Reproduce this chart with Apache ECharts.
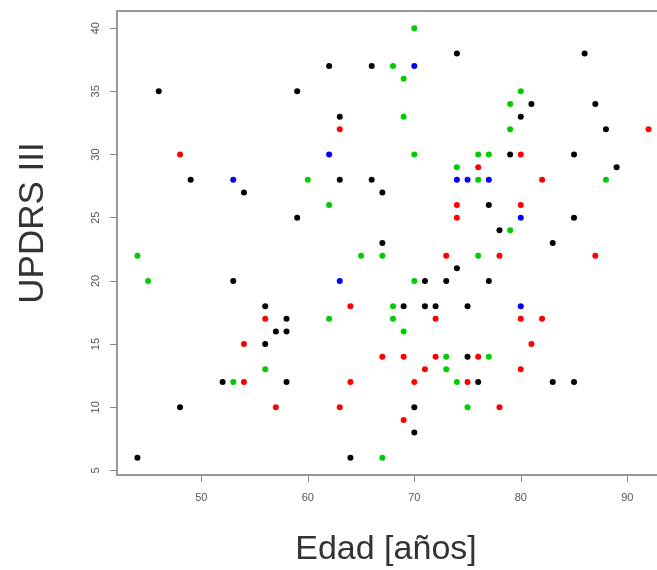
<!DOCTYPE html>
<html>
<head>
<meta charset="utf-8">
<script src="https://cdn.jsdelivr.net/npm/echarts@6/dist/echarts.min.js"></script>
<style>
  html, body { margin: 0; padding: 0; background: #fff; }
  #chart { width: 657px; height: 570px; }
</style>
</head>
<body>
<div id="chart"></div>
<script>
// [edad, updrs] pairs per group
const blackPts = [
  [62,37],[66,37],[46,35],[59,35],[63,33],[49,28],[63,28],[66,28],[54,27],[67,27],
  [59,25],[67,23],[74,38],[86,38],[81,34],[87,34],[80,33],[88,32],[79,30],[85,30],
  [89,29],[77,26],[85,25],[78,24],[83,23],[53,20],[56,18],[58,17],[57,16],[58,16],
  [56,15],[52,12],[58,12],[48,10],[44,6],[64,6],[74,21],[71,20],[73,20],[77,20],
  [69,18],[71,18],[72,18],[75,18],[75,14],[76,12],[83,12],[85,12],[70,10],[70,8]
]
const redPts = [
  [63,32],[48,30],[92,32],[80,30],[76,29],[82,28],[74,26],[80,26],[74,25],[64,18],
  [56,17],[54,15],[67,14],[54,12],[64,12],[57,10],[63,10],[73,22],[78,22],[87,22],
  [72,17],[80,17],[82,17],[81,15],[69,14],[72,14],[76,14],[71,13],[80,13],[70,12],
  [75,12],[78,10],[69,9]
]
const greenPts = [
  [68,37],[60,28],[62,26],[70,40],[69,36],[80,35],[79,34],[69,33],[79,32],[70,30],
  [76,30],[77,30],[74,29],[76,28],[88,28],[79,24],[44,22],[65,22],[67,22],[45,20],
  [68,18],[62,17],[68,17],[56,13],[53,12],[67,6],[76,22],[70,20],[69,16],[73,14],
  [77,14],[73,13],[74,12],[75,10]
]
const bluePts = [
  [62,30],[53,28],[70,37],[74,28],[75,28],[77,28],[80,25],[63,20],[80,18]
]

const xTicks = [50, 60, 70, 80, 90]
const yTicks = [5, 10, 15, 20, 25, 30, 35, 40]

const myChart = echarts.init(document.getElementById('chart'), null, { renderer: 'canvas' })

const boxLine = { show: true, lineStyle: { color: '#999', width: 2 } }

const dotSeries = (data, color) => ({
  type: 'scatter',
  data: data,
  symbol: 'circle',
  symbolSize: 6,
  itemStyle: { color: color, opacity: 1 },
  emphasis: { disabled: true },
  silent: true
})

const option = {
  animation: false,
  grid: {
    left: 117,
    top: 11,
    width: 552,
    height: 464,
    outerBoundsMode: 'none',
    containLabel: false,
    show: false
  },
  xAxis: [{
    type: 'value',
    min: 42.08,
    max: 93.92,
    name: 'Edad [años]',
    nameLocation: 'middle',
    nameGap: 58,
    nameTextStyle: {
      fontSize: 34,
      color: '#333',
      fontFamily: 'Liberation Sans',
      padding: [0, 14, 0, 0]
    },
    axisLine: boxLine,
    splitLine: { show: false },
    axisTick: {
      show: true,
      customValues: xTicks,
      length: 7,
      lineStyle: { color: '#888', width: 1 }
    },
    axisLabel: {
      customValues: xTicks,
      margin: 17,
      fontSize: 11,
      color: '#555',
      fontFamily: 'Liberation Sans'
    }
  }, {
    // top edge of the box
    type: 'value',
    position: 'top',
    min: 42.08,
    max: 93.92,
    axisLine: boxLine,
    axisTick: { show: false },
    axisLabel: { show: false },
    splitLine: { show: false }
  }],
  yAxis: {
    type: 'value',
    min: 4.64,
    max: 41.36,
    name: 'UPDRS III',
    nameLocation: 'middle',
    nameGap: 66,
    nameTextStyle: {
      fontSize: 35,
      color: '#333',
      fontFamily: 'Liberation Sans',
      padding: [0, 0, 0, 40]
    },
    axisLine: boxLine,
    splitLine: { show: false },
    axisTick: {
      show: true,
      customValues: yTicks,
      length: 7,
      lineStyle: { color: '#888', width: 1 }
    },
    axisLabel: {
      customValues: yTicks,
      rotate: 90,
      margin: 16,
      fontSize: 11,
      color: '#555',
      fontFamily: 'Liberation Sans'
    }
  },
  series: [
    dotSeries(blackPts, '#000000'),
    dotSeries(redPts, '#ff0000'),
    dotSeries(greenPts, '#00cd00'),
    dotSeries(bluePts, '#0000ff')
  ]
}

myChart.setOption(option)
</script>
</body>
</html>
